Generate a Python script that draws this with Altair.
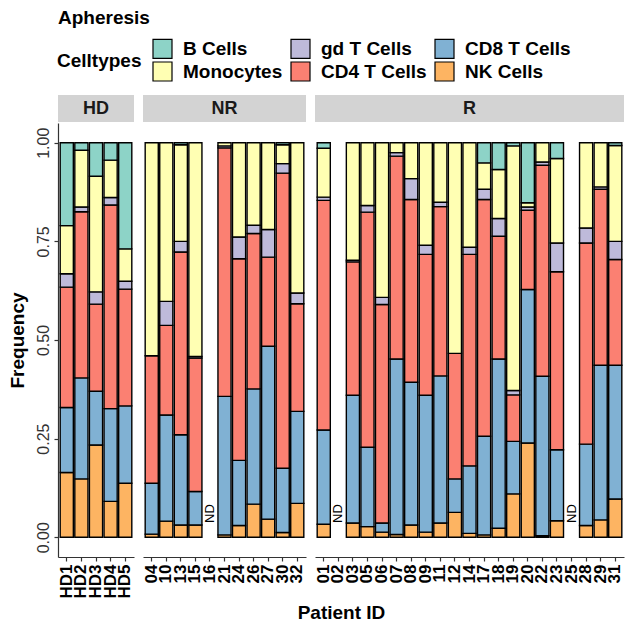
import altair as alt
import pandas as pd

# Patient IDs per response group (None = not determined)
hd_ids = ["HD1", "HD2", "HD3", "HD4", "HD5"]
nr_ids = ["04", "10", "13", "15", "16", "21", "24", "26", "27", "30", "32"]
r_ids = ["01", "02", "03", "05", "06", "07", "08", "09", "11", "12", "14",
         "17", "18", "19", "20", "22", "23", "25", "28", "29", "31"]

# Cell type frequencies, one list per cell type, aligned with the IDs above
hd_vals = {
    "NK Cells":    [0.164, 0.148, 0.234, 0.091, 0.137],
    "CD8 T Cells": [0.165, 0.256, 0.136, 0.235, 0.196],
    "CD4 T Cells": [0.305, 0.421, 0.221, 0.516, 0.296],
    "gd T Cells":  [0.034, 0.012, 0.031, 0.019, 0.020],
    "Monocytes":   [0.122, 0.144, 0.293, 0.095, 0.082],
    "B Cells":     [0.210, 0.019, 0.085, 0.044, 0.269],
}
nr_vals = {
    "NK Cells":    [0.008, 0.041, 0.031, 0.031, None, 0.006, 0.030, 0.084, 0.046, 0.012, 0.086],
    "CD8 T Cells": [0.129, 0.269, 0.229, 0.085, None, 0.351, 0.165, 0.292, 0.438, 0.163, 0.233],
    "CD4 T Cells": [0.323, 0.227, 0.463, 0.338, None, 0.630, 0.511, 0.394, 0.226, 0.748, 0.273],
    "gd T Cells":  [0.000, 0.061, 0.027, 0.004, None, 0.005, 0.055, 0.021, 0.070, 0.024, 0.027],
    "Monocytes":   [0.540, 0.402, 0.245, 0.542, None, 0.008, 0.239, 0.209, 0.220, 0.048, 0.381],
    "B Cells":     [0.000, 0.000, 0.005, 0.000, None, 0.000, 0.000, 0.000, 0.000, 0.005, 0.000],
}
r_vals = {
    "NK Cells":    [0.033, None, 0.036, 0.027, 0.013, 0.007, 0.031, 0.013, 0.036, 0.063, 0.010,
                    0.006, 0.023, 0.110, 0.239, 0.004, 0.042, None, 0.030, 0.044, 0.097],
    "CD8 T Cells": [0.239, None, 0.324, 0.201, 0.023, 0.445, 0.362, 0.347, 0.373, 0.085, 0.171,
                    0.250, 0.429, 0.133, 0.389, 0.404, 0.180, None, 0.206, 0.392, 0.339],
    "CD4 T Cells": [0.582, None, 0.338, 0.596, 0.554, 0.514, 0.463, 0.357, 0.429, 0.318, 0.536,
                    0.600, 0.311, 0.118, 0.201, 0.535, 0.451, None, 0.510, 0.446, 0.268],
    "gd T Cells":  [0.008, None, 0.004, 0.017, 0.018, 0.009, 0.053, 0.023, 0.011, 0.000, 0.018,
                    0.026, 0.045, 0.011, 0.008, 0.008, 0.073, None, 0.038, 0.006, 0.046],
    "Monocytes":   [0.124, None, 0.298, 0.159, 0.392, 0.025, 0.091, 0.260, 0.151, 0.534, 0.265,
                    0.067, 0.124, 0.620, 0.011, 0.049, 0.214, None, 0.216, 0.112, 0.243],
    "B Cells":     [0.014, None, 0.000, 0.000, 0.000, 0.000, 0.000, 0.000, 0.000, 0.000, 0.000,
                    0.051, 0.068, 0.008, 0.152, 0.000, 0.040, None, 0.000, 0.000, 0.007],
}

# bottom-to-top stacking order
stack_order = ["NK Cells", "CD8 T Cells", "CD4 T Cells", "gd T Cells", "Monocytes", "B Cells"]
# legend order (filled row by row, three columns)
legend_order = ["B Cells", "gd T Cells", "CD8 T Cells", "Monocytes", "CD4 T Cells", "NK Cells"]
legend_colors = ["#8DD3C7", "#BEBADA", "#80B1D3", "#FFFFB3", "#FB8072", "#FDB462"]

FONT = "Liberation Sans"
PANEL_H = 434
STRIP_H = 27
ND_Y = 0.06

color = alt.Color(
    "celltype:N",
    scale=alt.Scale(domain=legend_order, range=legend_colors),
    legend=alt.Legend(
        title="Celltypes", orient="none", legendX=-1, legendY=-85,
        columns=3, direction="horizontal", titleOrient="left",
        titleAnchor="middle", titleBaseline="middle",
        titleFontSize=19, titleFontWeight="bold", titleColor="black", titlePadding=10,
        labelFontSize=19, labelFontWeight="bold", labelColor="black", labelOffset=10,
        symbolType="square", symbolSize=361, symbolStrokeColor="black",
        symbolStrokeWidth=1.2, symbolOpacity=1, rowPadding=-5, columnPadding=5,
    ),
)


def panel(name, ids, vals, width, first=False, last=False):
    rows, nd_rows = [], []
    for i, pid in enumerate(ids):
        if vals["NK Cells"][i] is None:
            nd_rows.append({"patient": pid, "y": ND_Y, "label": "ND"})
            continue
        for rank, ct in enumerate(stack_order):
            v = vals[ct][i]
            if v:
                rows.append({"patient": pid, "celltype": ct, "frequency": v, "rank": rank})
    df = pd.DataFrame(rows)

    xscale = alt.Scale(domain=ids, paddingInner=0.1, paddingOuter=0.15)
    xaxis_kw = dict(
        labelAngle=270, labelFontSize=17, labelFontWeight="bold", labelColor="black",
        labelPadding=3, tickSize=4, tickColor="#333333", tickWidth=1.2,
        domainColor="#333333", domainWidth=1.2, grid=False,
    )
    if last:
        xaxis = alt.Axis(title="Patient ID", titleFontSize=19, titleFontWeight="bold",
                         titleColor="black", titleX=26, titleY=46, titleBaseline="top",
                         titleAlign="center", **xaxis_kw)
    else:
        xaxis = alt.Axis(title=None, **xaxis_kw)

    yscale = alt.Scale(domain=[-0.05, 1.05], nice=False, zero=False)
    if first:
        yaxis = alt.Axis(
            title="Frequency", values=[0, 0.25, 0.5, 0.75, 1.0], format=".2f",
            labelAngle=270, labelAlign="center", labelBaseline="bottom",
            labelFontSize=16, labelColor="#333333", labelPadding=3,
            tickSize=4, tickColor="#333333", tickWidth=1.2,
            domainColor="#333333", domainWidth=1.2, grid=False,
            titleFontSize=19, titleFontWeight="bold", titleColor="black", titlePadding=8,
        )
    else:
        yaxis = None

    bars = alt.Chart(df).mark_bar(stroke="black", strokeWidth=1.4).encode(
        x=alt.X("patient:N", scale=xscale, axis=xaxis),
        y=alt.Y("frequency:Q", stack="zero", scale=yscale, axis=yaxis),
        color=color,
        order=alt.Order("rank:Q", sort="ascending"),
    )

    strip_df = pd.DataFrame({"facet": [name]})
    strip_rect = alt.Chart(strip_df).mark_rect(color="#D3D3D3").encode(
        x=alt.value(0), x2=alt.value(width),
        y=alt.value(-STRIP_H - 1), y2=alt.value(-1),
    )
    strip_text = alt.Chart(strip_df).mark_text(
        font=FONT, fontSize=18, fontWeight="bold", color="#1A1A1A", baseline="middle"
    ).encode(x=alt.value(width / 2), y=alt.value(-STRIP_H / 2 - 1), text="facet:N")

    layers = [strip_rect, strip_text, bars]
    if nd_rows:
        nd = alt.Chart(pd.DataFrame(nd_rows)).mark_text(
            font=FONT, fontSize=13, angle=270, color="black", baseline="middle", align="center"
        ).encode(
            x=alt.X("patient:N", scale=xscale, axis=xaxis),
            y=alt.Y("y:Q", scale=yscale, axis=yaxis),
            text="label:N",
        )
        layers.append(nd)
    return alt.layer(*layers).properties(width=width, height=PANEL_H)


chart = alt.hconcat(
    panel("HD", hd_ids, hd_vals, 76, first=True),
    panel("NR", nr_ids, nr_vals, 163),
    panel("R", r_ids, r_vals, 309, last=True),
    spacing=9,
    bounds="flush",
).resolve_scale(
    x="independent"
).properties(
    title=alt.TitleParams("Apheresis", anchor="start", frame="group", fontSize=19,
                          fontWeight="bold", color="black", font=FONT, offset=10),
    padding={"left": 8, "top": 9, "right": 2, "bottom": 5},
).configure(
    font=FONT
).configure_view(
    strokeWidth=0
)

chart.save("out.html", embed_options={"renderer": "svg", "actions": False})
